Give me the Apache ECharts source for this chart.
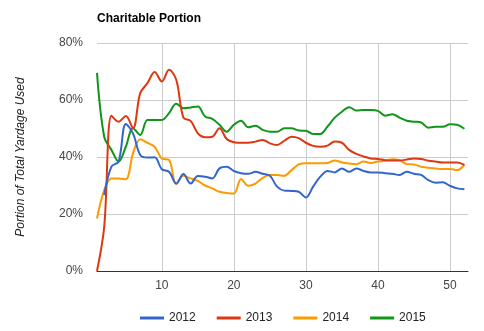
<!DOCTYPE html>
<html>
<head>
<meta charset="utf-8">
<script src="https://cdn.jsdelivr.net/npm/echarts@6/dist/echarts.min.js"></script>
<style>html,body{margin:0;padding:0;background:#fff}#c{width:484px;height:331px}</style>
</head>
<body>
<div id="c"></div>
<script>
var weeks = [];
for (var i = 1; i <= 52; i++) weeks.push(i);
var xTicks = [10, 20, 30, 40, 50];
var yTicks = [0, 20, 40, 60, 80];
var seriesNames = ['2012', '2013', '2014', '2015'];
var s2012 = [null, 26.6, 36.6, 38.4, 51.6, 48.3, 40.7, 39.8, 39.9, 35.7,
  34.8, 30.7, 34.0, 30.7, 33.3, 33.1, 32.5, 36.0, 36.6, 35.1,
  34.3, 34.1, 34.8, 34.1, 33.4, 29.6, 28.2, 28.1, 27.8, 25.8,
  29.6, 33.1, 35.1, 34.6, 36.0, 34.8, 36.0, 35.1, 34.6, 34.6,
  34.3, 34.1, 33.7, 34.8, 34.1, 33.7, 31.9, 31.0, 31.1, 29.9,
  29.0, 28.7];
var s2013 = [0, 15.5, 54.5, 52.4, 54.4, 50.1, 62.4, 65.9, 69.8, 66.5,
  70.6, 67.1, 53.8, 52.7, 48.3, 46.9, 47.1, 50.1, 46.3, 45.2,
  45.0, 45.0, 45.4, 46.0, 44.8, 44.2, 45.7, 47.1, 46.6, 45.0,
  43.9, 43.6, 44.0, 45.4, 45.0, 42.5, 41.1, 40.2, 39.5, 39.3,
  38.9, 38.8, 38.8, 39.1, 39.5, 39.3, 38.7, 38.4, 38.1, 38.1,
  38.1, 37.2];
var s2014 = [18.4, 28.4, 32.5, 32.5, 32.2, 41.3, 46.2, 45.0, 43.6, 39.5,
  39.0, 30.5, 33.4, 32.5, 31.6, 30.0, 29.0, 27.8, 27.4, 27.2,
  32.3, 29.9, 30.7, 32.7, 33.7, 33.7, 33.4, 35.4, 37.4, 37.8,
  37.8, 37.8, 37.9, 38.8, 38.1, 37.7, 37.5, 38.4, 37.9, 38.4,
  38.7, 39.2, 38.9, 37.5, 37.4, 36.6, 36.2, 36.0, 35.8, 35.8,
  35.4, 37.2];
var s2015 = [69.5, 47.1, 42.5, 38.4, 43.6, 50.1, 47.7, 53.0, 53.0, 53.0,
  55.4, 58.7, 57.1, 57.4, 57.7, 54.2, 53.4, 51.3, 48.9, 51.3,
  52.7, 50.4, 51.0, 49.5, 48.9, 48.9, 50.1, 50.1, 49.3, 49.2,
  48.1, 48.1, 50.7, 53.8, 55.9, 57.5, 56.3, 56.5, 56.5, 56.2,
  54.5, 55.0, 53.8, 52.7, 52.4, 52.1, 50.3, 50.6, 50.6, 51.5,
  51.3, 49.9];
var colors = ['#3366cc', '#dc3912', '#ff9900', '#109618'];
var allData = [s2012, s2013, s2014, s2015];

function pairs(arr) {
  return weeks.map(function (w, i) { return [w, arr[i]]; });
}

var font = 'Liberation Sans, Arial, sans-serif';
var chart = echarts.init(document.getElementById('c'), null, { renderer: 'canvas' });
chart.setOption({
  animation: false,
  color: colors,
  title: {
    text: 'Charitable Portion',
    left: 92, top: 8,
    textStyle: { fontFamily: font, fontSize: 12, fontWeight: 'bold', color: '#000' }
  },
  legend: {
    bottom: 2, left: 135,
    icon: 'rect', itemWidth: 24, itemHeight: 3, itemGap: 21,
    textStyle: { fontFamily: font, fontSize: 12, color: '#222' },
    data: seriesNames
  },
  grid: { left: 97, right: 16, top: 43, bottom: 60, containLabel: false },
  xAxis: {
    type: 'value', min: 1, max: 52.5,
    axisLine: { show: true, lineStyle: { color: '#333', width: 1 } },
    axisTick: { show: false, customValues: xTicks },
    axisLabel: { customValues: xTicks, fontFamily: font, fontSize: 12, color: '#444', margin: 9 },
    splitLine: { show: true, lineStyle: { color: '#ccc', width: 1 } }
  },
  yAxis: {
    type: 'value', min: 0, max: 80, interval: 20,
    name: 'Portion of Total Yardage Used',
    nameLocation: 'middle', nameRotate: 90, nameGap: 70,
    nameTextStyle: { fontFamily: font, fontSize: 12, fontStyle: 'italic', color: '#222' },
    axisLine: { show: false },
    axisTick: { show: false },
    axisLabel: { formatter: '{value}%', fontFamily: font, fontSize: 12, color: '#444', margin: 14 },
    splitLine: { show: true, lineStyle: { color: '#ccc', width: 1 } }
  },
  series: seriesNames.map(function (n, k) {
    return {
      name: n, type: 'line', data: pairs(allData[k]),
      smooth: 0.35, symbol: 'none', connectNulls: false,
      lineStyle: { width: 2, color: colors[k] },
      itemStyle: { color: colors[k] },
      z: 10 - k
    };
  })
});
</script>
</body>
</html>
